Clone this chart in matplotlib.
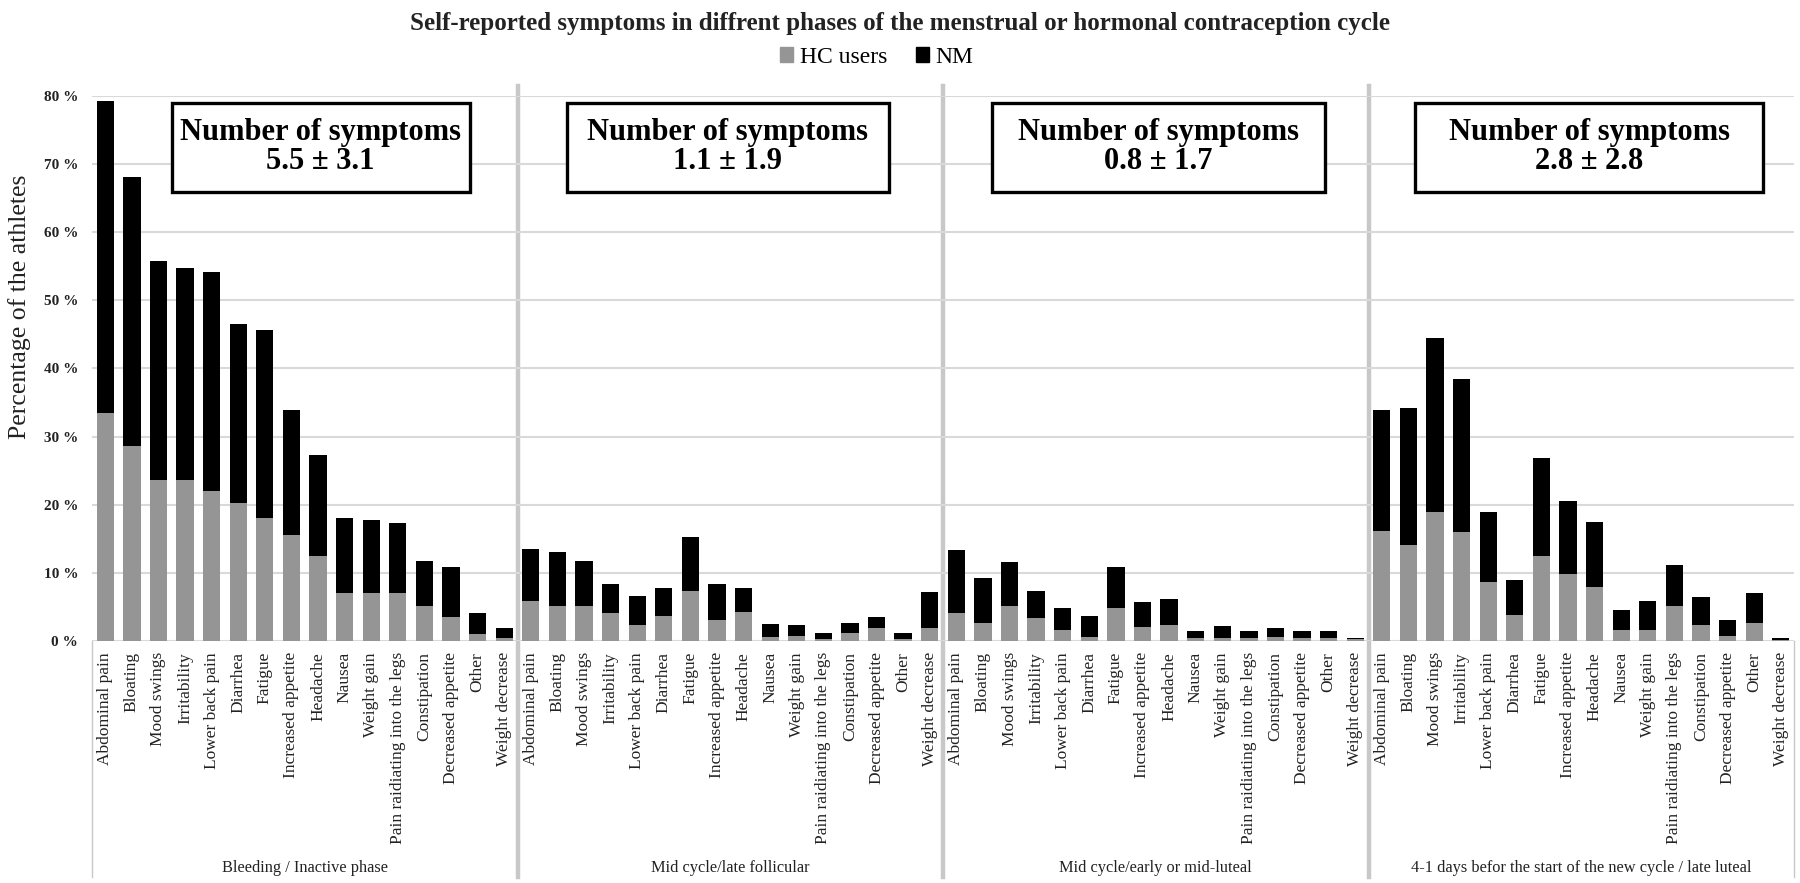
import numpy as np
import matplotlib
matplotlib.use("Agg")
import matplotlib.pyplot as plt
import matplotlib.transforms as mtransforms
from matplotlib.patches import Patch, Rectangle

symptoms = ["Abdominal pain", "Bloating", "Mood swings", "Irritability", "Lower back pain",
            "Diarrhea", "Fatigue", "Increased appetite", "Headache", "Nausea", "Weight gain",
            "Pain raidiating into the legs", "Constipation", "Decreased appetite", "Other",
            "Weight decrease"]
phases = ["Bleeding / Inactive phase", "Mid cycle/late follicular",
          "Mid cycle/early or mid-luteal",
          "4-1 days befor the start of the new cycle / late luteal"]
n_symptoms = ["5.5 \u00b1 3.1", "1.1 \u00b1 1.9", "0.8 \u00b1 1.7", "2.8 \u00b1 2.8"]

# percentages per phase, HC users part and NM part (stacked on top)
hc_bleeding = [33.4, 28.6, 23.7, 23.7, 22.0, 20.3, 18.0, 15.6, 12.4, 7.0, 7.0, 7.1, 5.2, 3.5, 1.0, 0.5]
nm_bleeding = [45.9, 39.5, 32.1, 31.0, 32.1, 26.3, 27.6, 18.3, 14.9, 11.0, 10.8, 10.2, 6.5, 7.3, 3.1, 1.4]
hc_follicular = [5.8, 5.1, 5.2, 4.1, 2.3, 3.6, 7.4, 3.1, 4.3, 0.6, 0.7, 0.3, 1.2, 1.9, 0.3, 1.9]
nm_follicular = [7.7, 8.0, 6.6, 4.2, 4.3, 4.2, 7.9, 5.3, 3.5, 1.9, 1.6, 0.8, 1.5, 1.6, 0.8, 5.3]
hc_luteal = [4.1, 2.7, 5.2, 3.4, 1.6, 0.6, 4.8, 2.1, 2.3, 0.4, 0.5, 0.4, 0.6, 0.4, 0.4, 0.3]
nm_luteal = [9.3, 6.5, 6.4, 4.0, 3.2, 3.0, 6.1, 3.6, 3.9, 1.0, 1.7, 1.1, 1.3, 1.0, 1.1, 0.2]
hc_late = [16.2, 14.1, 18.9, 16.0, 8.7, 3.8, 12.5, 9.8, 7.9, 1.6, 1.6, 5.1, 2.3, 0.8, 2.7, 0.2]
nm_late = [17.7, 20.1, 25.6, 22.5, 10.2, 5.2, 14.4, 10.8, 9.5, 3.0, 4.2, 6.1, 4.1, 2.3, 4.3, 0.3]

hc = np.array(hc_bleeding + hc_follicular + hc_luteal + hc_late)
nm = np.array(nm_bleeding + nm_follicular + nm_luteal + nm_late)
labels = symptoms * 4
x = np.arange(len(hc))
ng = len(symptoms)

# text boxes: centre (in bar units) and width
box_x = [8.1, 23.4, 39.6, 55.8]
box_w = [11.2, 12.1, 12.5, 13.1]

serif = ["Liberation Serif", "DejaVu Serif"]
plt.rcParams["font.family"] = serif

fig = plt.figure(figsize=(18, 8.83), dpi=100)
ax = fig.add_axes([0.0511, 0.2741, 0.9456, 0.6172])

ax.bar(x, hc, width=0.65, color="#959595", zorder=3)
ax.bar(x, nm, bottom=hc, width=0.65, color="black", zorder=3)

ax.set_xlim(-0.5, len(x) - 0.5)
ax.set_ylim(0, 80)
ax.set_yticks(np.arange(0, 81, 10))
ax.set_yticklabels([f"{v} %" for v in range(0, 81, 10)], fontsize=11, fontweight="bold", color="#222222")
ax.yaxis.grid(True, color="#d9d9d9", linewidth=1.5, zorder=0)
ax.tick_params(axis="y", length=0, pad=10)
ax.set_xticks(x)
ax.set_xticklabels(labels, rotation=90, fontsize=12.5, color="#222222")
ax.tick_params(axis="x", length=0, pad=8)
for s in ax.spines.values():
    s.set_visible(False)

fig.text(20 / 1800, 1 - 307 / 883, "Percentage of the athletes", rotation=90,
         ha="center", va="center", fontsize=18.5, color="#222222")

trans = mtransforms.blended_transform_factory(ax.transData, ax.transAxes)
for b in [ng - 0.5, 2 * ng - 0.5, 3 * ng - 0.5]:
    ax.plot([b, b], [-0.433, 1.018], transform=trans, color="#c8c8c8", lw=3.2,
            clip_on=False, zorder=1)
for b in [-0.5, len(x) - 0.5]:
    ax.plot([b, b], [-0.433, 0], transform=trans, color="#c8c8c8", lw=1.0,
            clip_on=False, zorder=1)

for i, ph in enumerate(phases):
    c = i * ng + (ng - 1) / 2
    ax.text(c, -0.4165, ph, transform=trans, ha="center", va="center",
            fontsize=11.8, color="#222222")
    ax.add_patch(Rectangle((box_x[i] - box_w[i] / 2, 65.9), box_w[i], 13.1, fc="white",
                           ec="black", lw=2.4, zorder=5))
    ax.text(box_x[i], 72.5, "Number of symptoms\n" + n_symptoms[i], ha="center", va="center",
            fontsize=22, fontweight="bold", linespacing=1.0, zorder=6)

fig.suptitle("Self-reported symptoms in diffrent phases of the menstrual or hormonal contraception cycle",
             x=0.5, y=0.986, fontsize=18, fontweight="bold", color="#222222")

handles = [Patch(color="#959595", label="HC users"), Patch(color="black", label="NM")]
fig.legend(handles=handles, loc="center", bbox_to_anchor=(0.487, 0.935), ncol=2, frameon=False,
           fontsize=17, handlelength=0.55, handleheight=0.55, handletextpad=0.3, columnspacing=1.2)

fig.savefig("out.png", dpi=100)
